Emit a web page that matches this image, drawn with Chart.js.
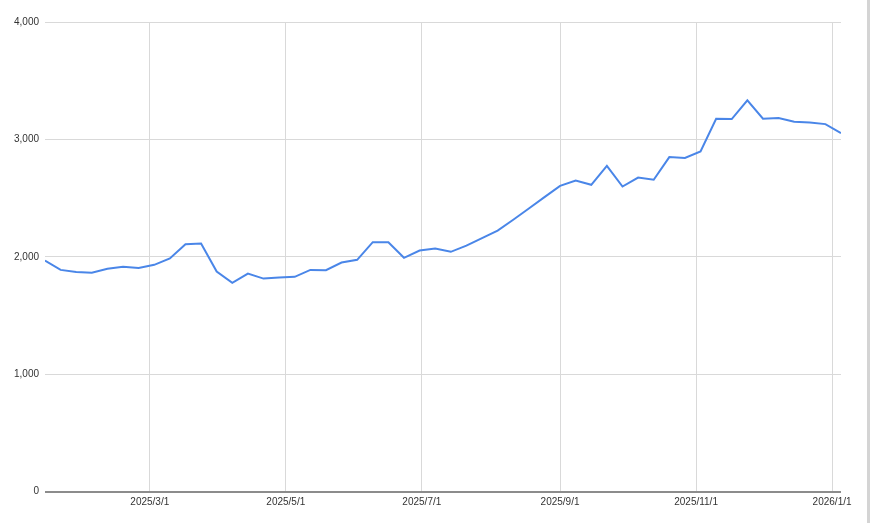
<!DOCTYPE html>
<html>
<head>
<meta charset="utf-8">
<script src="https://cdn.jsdelivr.net/npm/chart.js@4/dist/chart.umd.min.js"></script>
<style>
  html, body { margin: 0; padding: 0; background: #fff; }
  #wrap { position: relative; width: 870px; height: 523px; }
  #edge { position: absolute; left: 867px; top: 0; width: 3px; height: 523px; background: #d4d4d4; }
</style>
</head>
<body>
<div id="wrap">
  <canvas id="c" width="870" height="523"></canvas>
  <div id="edge"></div>
</div>
<script>
// Weekly dates (x values)
const dates = [
  "2025-01-13","2025-01-20","2025-01-27","2025-02-03","2025-02-10","2025-02-17","2025-02-24",
  "2025-03-03","2025-03-10","2025-03-17","2025-03-24","2025-03-31","2025-04-07","2025-04-14",
  "2025-04-21","2025-04-28","2025-05-05","2025-05-12","2025-05-19","2025-05-26","2025-06-02",
  "2025-06-09","2025-06-16","2025-06-23","2025-06-30","2025-07-07","2025-07-14","2025-07-21",
  "2025-07-28","2025-08-04","2025-08-11","2025-08-18","2025-08-25","2025-09-01","2025-09-08",
  "2025-09-15","2025-09-22","2025-09-29","2025-10-06","2025-10-13","2025-10-20","2025-10-27",
  "2025-11-03","2025-11-10","2025-11-17","2025-11-24","2025-12-01","2025-12-08","2025-12-15",
  "2025-12-22","2025-12-29","2026-01-05"
];
// Series values
const values = [
  1968, 1888, 1871, 1863, 1897, 1914, 1905,
  1931, 1985, 2107, 2113, 1874, 1778, 1857,
  1814, 1823, 1829, 1888, 1886, 1951, 1974,
  2124, 2124, 1991, 2053, 2070, 2042, 2095,
  2159, 2223, 2315, 2411, 2508, 2604, 2650,
  2613, 2775, 2598, 2675, 2656, 2849, 2841,
  2897, 3176, 3173, 3332, 3176, 3182, 3150,
  3144, 3130, 3054
];
// X-axis tick labels (month starts)
const xTickDates = ["2025-03-01","2025-05-01","2025-07-01","2025-09-01","2025-11-01","2026-01-01"];
const xTickLabels = ["2025/3/1","2025/5/1","2025/7/1","2025/9/1","2025/11/1","2026/1/1"];
// Y-axis ticks
const yTicks = [0, 1000, 2000, 3000, 4000];

const DAY = 86400000;
const base = Date.UTC(2025, 0, 1);
function dayNum(s) {
  const p = s.split("-").map(Number);
  return (Date.UTC(p[0], p[1] - 1, p[2]) - base) / DAY;
}
const points = dates.map((d, i) => ({ x: dayNum(d), y: values[i] }));
const xTickVals = xTickDates.map(dayNum);
const labelMap = {};
xTickVals.forEach((v, i) => { labelMap[v] = xTickLabels[i]; });

const font = { family: "'Liberation Sans', Arial, sans-serif", size: 10 };

new Chart(document.getElementById("c"), {
  type: "line",
  data: {
    datasets: [{
      data: points,
      borderColor: "#4a86e8",
      borderWidth: 2,
      pointRadius: 0,
      pointHoverRadius: 0,
      tension: 0,
      fill: false
    }]
  },
  options: {
    responsive: false,
    animation: false,
    devicePixelRatio: 1,
    layout: { padding: { left: 0, right: 29, top: 22, bottom: 0 } },
    plugins: { legend: { display: false }, tooltip: { enabled: false } },
    scales: {
      x: {
        type: "linear",
        min: points[0].x,
        max: points[points.length - 1].x,
        afterBuildTicks: (scale) => { scale.ticks = xTickVals.map(v => ({ value: v })); },
        afterFit: (scale) => { scale.height = 31.5; },
        ticks: {
          autoSkip: false,
          maxRotation: 0,
          padding: 5,
          color: "#333",
          font: font,
          callback: (v) => labelMap[v] || ""
        },
        grid: { color: "#d9d9d9", lineWidth: 1, drawTicks: false },
        border: { display: false }
      },
      y: {
        min: 0,
        max: 4000,
        afterBuildTicks: (scale) => { scale.ticks = yTicks.map(v => ({ value: v })); },
        afterFit: (scale) => { scale.width = 45; },
        ticks: {
          padding: 6,
          color: "#333",
          font: font,
          callback: (v) => v.toLocaleString("en-US")
        },
        grid: {
          drawTicks: false,
          color: (ctx) => (ctx.tick && ctx.tick.value === 0) ? "#8c8c8c" : "#d9d9d9",
          lineWidth: (ctx) => (ctx.tick && ctx.tick.value === 0) ? 2 : 1
        },
        border: { display: false }
      }
    }
  }
});
</script>
</body>
</html>
